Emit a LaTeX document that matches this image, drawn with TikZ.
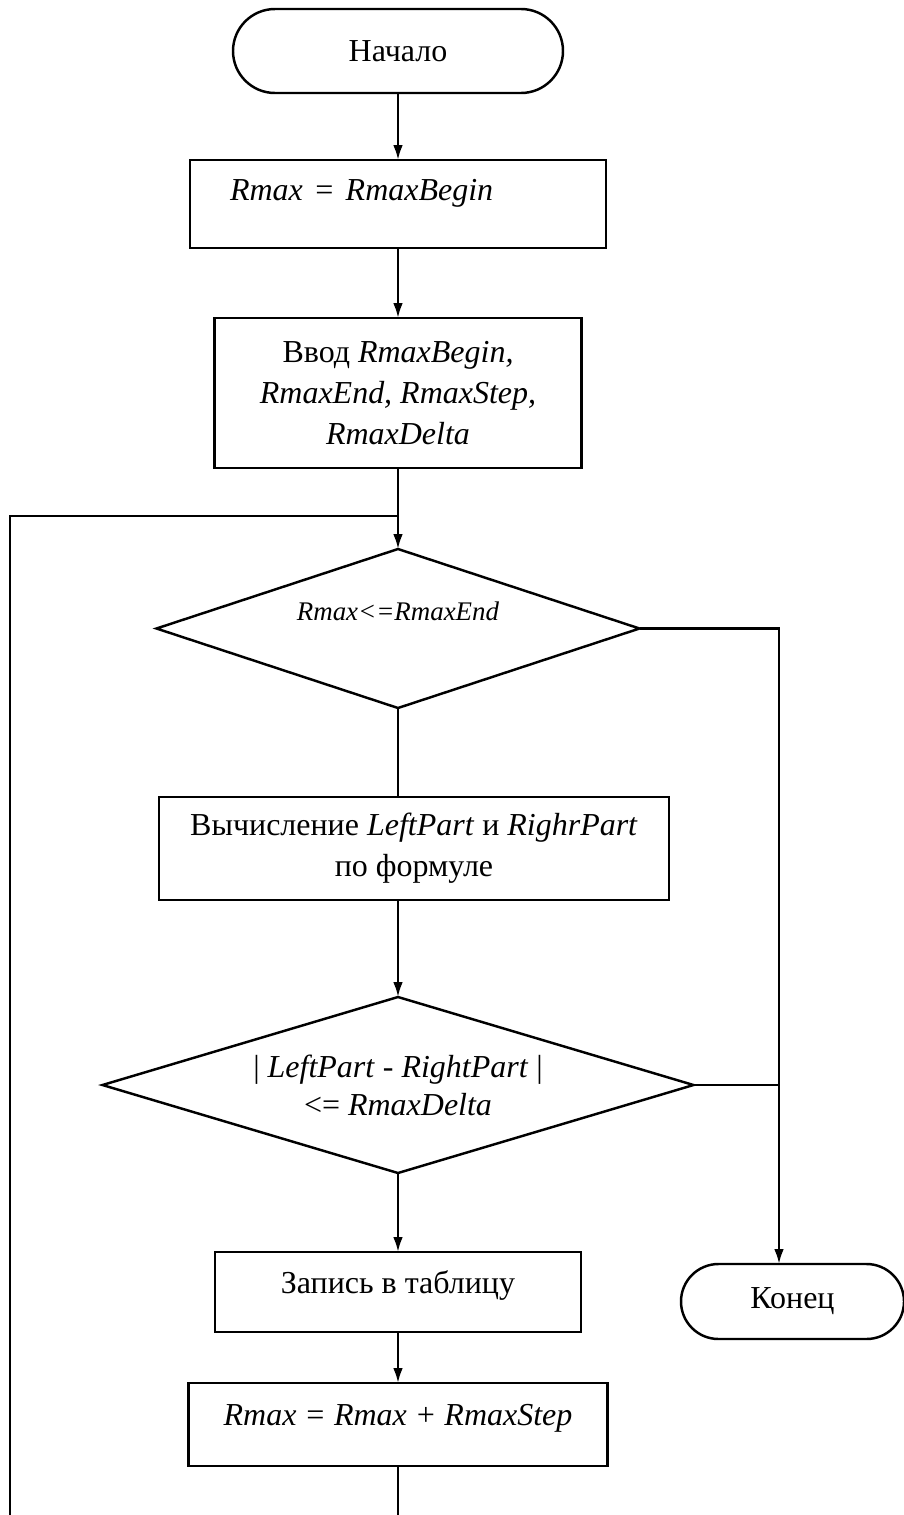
\documentclass[tikz,border=0pt]{standalone}
\usepackage{fontspec}
\setmainfont{Liberation Serif}
\usetikzlibrary{arrows.meta,positioning,shapes.geometric}
\tikzset{
    term/.style={rectangle, draw, align=center, inner sep=0pt, outer sep=0pt,
                 font=\fontsize{18.2}{23.3}\selectfont},
    proc/.style={rectangle, draw, align=center, inner sep=0pt, outer sep=0pt,
                 font=\fontsize{18.2}{23.3}\selectfont},
    decis/.style={diamond, draw, align=center, inner sep=2pt, outer sep=0pt,
                  font=\fontsize{18.2}{21.6}\selectfont},
    arr/.style={-{Latex[length=8.5pt,width=5.5pt]}},
}

\begin{document}
\begin{tikzpicture}[line width=1.4pt]
    \useasboundingbox (0,0) rectangle (18.08,-30.3);
    \node[term, minimum width=6.6cm, minimum height=1.68cm, rounded corners=0.84cm] (start) at (7.96,-1.02) {Начало};
    \node[proc, below=1.34cm of start, minimum width=8.32cm, minimum height=1.76cm,
          text width=6.72cm, align=left, inner xsep=0.8cm,
          text height=0.8cm, text depth=0.96cm] (init) {\textit{Rmax = RmaxBegin}};
    \node[proc, below=1.4cm of init, minimum width=7.34cm, minimum height=3cm] (input)
        {Ввод \textit{RmaxBegin,}\\\textit{RmaxEnd, RmaxStep,}\\\textit{RmaxDelta}};
    \node[decis, below=1.62cm of input, minimum width=9.66cm, minimum height=3.18cm, aspect=3,
          text height=0.37cm, text depth=0.69cm, font=\fontsize{15.3}{20}\selectfont] (cond)
        {\textit{Rmax<=RmaxEnd}};
    \node[proc, below=1.78cm of cond, xshift=0.32cm, minimum width=10.2cm, minimum height=2.06cm] (calc)
        {Вычисление \textit{LeftPart} и \textit{RighrPart}\\по формуле};
    \node[decis, below=1.94cm of calc, xshift=-0.32cm, minimum width=11.82cm, minimum height=3.52cm, aspect=3.3] (check)
        {| \textit{LeftPart} - \textit{RightPart} |\\<= \textit{RmaxDelta}};
    \node[proc, below=1.58cm of check, minimum width=7.32cm, minimum height=1.6cm,
          text height=0.82cm, text depth=0.78cm] (save) {Запись в таблицу};
    \node[proc, below=1.02cm of save, minimum width=8.38cm, minimum height=1.66cm,
          text height=0.84cm, text depth=0.82cm] (next)
        {\textit{Rmax = Rmax + RmaxStep}};
    \node[term, right=2cm of save, yshift=-0.19cm, minimum width=4.46cm, minimum height=1.5cm,
          rounded corners=0.75cm] (stop) {Конец};

    \coordinate (rx) at (15.58,0);
    \coordinate (loopy) at (0,-10.32);
    \coordinate (lx) at (0.2,-30.3);

    \draw[arr] (start) -- (init);
    \draw[arr] (init) -- (input);
    \draw[arr] (input) -- (cond);
    \draw (lx) |- (cond.north |- loopy);
    \draw (cond.south) -- (cond.south |- calc.north);
    \draw[arr] (check.north |- calc.south) -- (check.north);
    \draw[arr] (check) -- (save);
    \draw[arr] (save) -- (next);
    \draw (next.south) -- (next.south |- lx);
    \draw[arr] (cond.east) -| (rx |- stop.north);
    \draw (check.east) -- (check.east -| rx);
\end{tikzpicture}
\end{document}
